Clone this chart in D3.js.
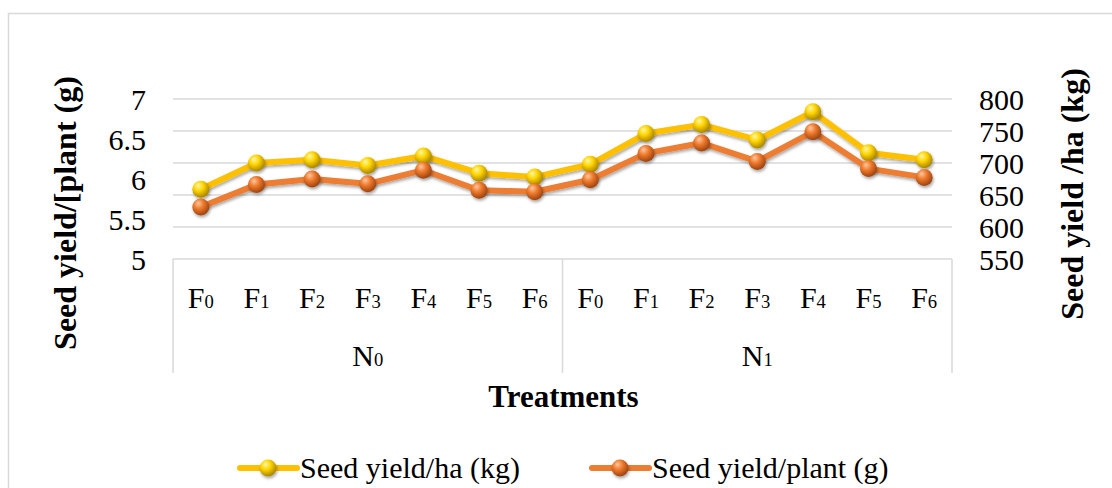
<!DOCTYPE html>
<html>
<head>
<meta charset="utf-8">
<script src="https://cdn.jsdelivr.net/npm/d3@7"></script>
<style>
  html, body { margin: 0; padding: 0; background: #fff; }
  svg { display: block; }
  svg text { font-family: "Liberation Serif", "Times New Roman", serif; }
</style>
</head>
<body>
<svg id="chart" width="1112" height="488"></svg>
<script>
// ---- data ----
const groups = ["N₀", "N₁"];
const subCategories = ["F₀", "F₁", "F₂", "F₃", "F₄", "F₅", "F₆"];
const yieldHa = [659, 700, 705, 696, 711, 684, 678, 698, 746, 760, 736, 780, 716, 705];      // kg, right axis
const yieldPlant = [5.65, 5.93, 6.00, 5.94, 6.11, 5.86, 5.84, 5.99, 6.32, 6.45, 6.22, 6.59, 6.13, 6.02]; // g, left axis
const leftTicks = [5, 5.5, 6, 6.5, 7];
const rightTicks = [550, 600, 650, 700, 750, 800];
const seriesNames = ["Seed yield/ha (kg)", "Seed yield/plant (g)"];
const leftTitle = "Seed yield/[plant (g)";
const rightTitle = "Seed yield /ha (kg)";
const xTitle = "Treatments";

// ---- layout ----
const svg = d3.select("#chart");
const plot = { left: 173, right: 952, top: 99, bottom: 259 };
const FS = 30;
const FONT = "Liberation Serif, Times New Roman, serif";
const gridColor = "#d9d9d9";

const categories = [];
groups.forEach(g => subCategories.forEach(s => categories.push(g + "|" + s)));

const x = d3.scaleBand().domain(categories).range([plot.left, plot.right]);
const yL = d3.scaleLinear().domain([5, 7]).range([plot.bottom, plot.top]);
const yR = d3.scaleLinear().domain([550, 800]).range([plot.bottom, plot.top]);

// subscript rendering helper: base letter + small digit on baseline
const subMap = { "₀": "0", "₁": "1", "₂": "2", "₃": "3", "₄": "4", "₅": "5", "₆": "6" };
function labelWithSub(sel, label) {
  const base = label.slice(0, -1), sub = label.slice(-1);
  sel.append("tspan").text(base);
  sel.append("tspan").attr("font-size", FS * 0.62).text(subMap[sub] || sub);
}

// defs: gradients & shadow
const defs = svg.append("defs");
function sphere(id, hi, mid, edge) {
  const g = defs.append("radialGradient").attr("id", id)
    .attr("cx", "40%").attr("cy", "35%").attr("r", "65%").attr("fx", "35%").attr("fy", "28%");
  g.append("stop").attr("offset", "0%").attr("stop-color", hi);
  g.append("stop").attr("offset", "45%").attr("stop-color", mid);
  g.append("stop").attr("offset", "100%").attr("stop-color", edge);
}
sphere("gradY", "#fff7a8", "#ffd400", "#a88400");
sphere("gradO", "#ffc7a0", "#ee7a2c", "#9c4312");
const f = defs.append("filter").attr("id", "shadow").attr("x", "-50%").attr("y", "-50%").attr("width", "200%").attr("height", "200%");
f.append("feDropShadow").attr("dx", 1).attr("dy", 2).attr("stdDeviation", 1.5).attr("flood-color", "#000").attr("flood-opacity", 0.35);

// chart border
svg.append("path")
  .attr("d", "M8.5,488 L8.5,13.5 L1112,13.5")
  .attr("fill", "none").attr("stroke", gridColor).attr("stroke-width", 1.5);

// gridlines (right axis ticks)
svg.append("g").selectAll("line").data(rightTicks).join("line")
  .attr("x1", plot.left).attr("x2", plot.right)
  .attr("y1", d => yR(d)).attr("y2", d => yR(d))
  .attr("stroke", gridColor).attr("stroke-width", 1.5);

// left axis labels
const gL = svg.append("g").attr("transform", `translate(${plot.left - 27},0)`)
  .call(d3.axisLeft(yL).tickValues(leftTicks).tickSize(0).tickPadding(0).tickFormat(d3.format("")))
  .attr("font-family", FONT).attr("font-size", FS);
gL.select(".domain").remove();
gL.selectAll("text").attr("font-size", FS).attr("font-family", FONT).attr("fill", "#000").attr("dy", "0.34em");

// right axis labels
const gR = svg.append("g").attr("transform", `translate(${plot.right + 27},0)`)
  .call(d3.axisRight(yR).tickValues(rightTicks).tickSize(0).tickPadding(0).tickFormat(d3.format("")))
  .attr("font-family", FONT).attr("font-size", FS);
gR.select(".domain").remove();
gR.selectAll("text").attr("font-size", FS).attr("font-family", FONT).attr("fill", "#000").attr("dy", "0.34em");

// multi-level category axis
const catBottom = 373;
const boundaries = [plot.left, x(categories[7]), plot.right];
svg.append("g").selectAll("line").data(boundaries).join("line")
  .attr("x1", d => d).attr("x2", d => d).attr("y1", plot.bottom).attr("y2", catBottom)
  .attr("stroke", gridColor).attr("stroke-width", 1.5);

svg.append("g").selectAll("text").data(categories).join("text")
  .attr("x", d => x(d) + x.bandwidth() / 2).attr("y", 308)
  .attr("text-anchor", "middle").attr("font-size", FS)
  .each(function (d) { labelWithSub(d3.select(this), d.split("|")[1]); });

svg.append("g").selectAll("text").data(groups).join("text")
  .attr("x", (g, i) => (boundaries[i] + boundaries[i + 1]) / 2).attr("y", 366)
  .attr("text-anchor", "middle").attr("font-size", FS)
  .each(function (d) { labelWithSub(d3.select(this), d); });

// axis titles
svg.append("text").attr("x", (plot.left + plot.right) / 2 + 1).attr("y", 407)
  .attr("text-anchor", "middle").attr("font-size", 31).attr("font-weight", "bold").text(xTitle);
svg.append("text").attr("transform", "translate(76,213) rotate(-90)")
  .attr("text-anchor", "middle").attr("font-size", 32).attr("font-weight", "bold").text(leftTitle);
svg.append("text").attr("transform", "translate(1083,194) rotate(-90)")
  .attr("text-anchor", "middle").attr("font-size", 32).attr("font-weight", "bold").text(rightTitle);

// series
const cx = i => x(categories[i]) + x.bandwidth() / 2;
function drawSeries(values, yScale, color, grad) {
  const line = d3.line().x((d, i) => cx(i)).y(d => yScale(d));
  svg.append("path").datum(values).attr("d", line)
    .attr("fill", "none").attr("stroke", color).attr("stroke-width", 6)
    .attr("stroke-linejoin", "round").attr("filter", "url(#shadow)");
  svg.append("g").selectAll("circle").data(values).join("circle")
    .attr("cx", (d, i) => cx(i)).attr("cy", d => yScale(d)).attr("r", 8.5)
    .attr("fill", `url(#${grad})`).attr("filter", "url(#shadow)");
}
drawSeries(yieldHa, yR, "#ffc000", "gradY");
drawSeries(yieldPlant, yL, "#ed7d31", "gradO");

// legend
const legend = [
  { name: seriesNames[0], color: "#ffc000", grad: "gradY", x: 240 },
  { name: seriesNames[1], color: "#ed7d31", grad: "gradO", x: 592 }
];
const lg = svg.append("g").selectAll("g").data(legend).join("g")
  .attr("transform", d => `translate(${d.x},468)`);
lg.append("line").attr("x1", 0).attr("x2", 57).attr("y1", 0).attr("y2", 0)
  .attr("stroke", d => d.color).attr("stroke-width", 6).attr("stroke-linecap", "round");
lg.append("circle").attr("cx", 28).attr("cy", 0).attr("r", 8.5)
  .attr("fill", d => `url(#${d.grad})`).attr("filter", "url(#shadow)");
lg.append("text").attr("x", 60).attr("y", 10).attr("font-size", FS).text(d => d.name);
</script>
</body>
</html>
